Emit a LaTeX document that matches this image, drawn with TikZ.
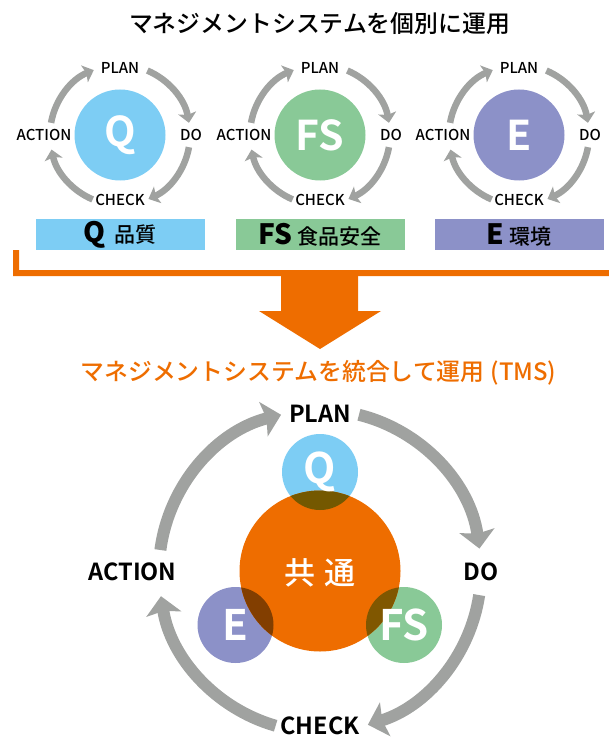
\documentclass[tikz,border=0pt]{standalone}
\usepackage{fontspec}
\setmainfont{Noto Sans CJK JP Medium}[BoldFont={Noto Sans CJK JP Bold}]
\newfontfamily\heavyfont{Noto Sans CJK JP Black}
\usetikzlibrary{arrows.meta}
\definecolor{cq}{HTML}{7DCDF4}
\definecolor{cfs}{HTML}{89C997}
\definecolor{ce}{HTML}{8C91C8}
\definecolor{corg}{HTML}{EE6D00}
\definecolor{cgr}{HTML}{A0A2A0}
\definecolor{ovq}{HTML}{745800}
\definecolor{ovfs}{HTML}{805700}
\definecolor{ove}{HTML}{823E00}
\newcommand{\fsz}[1]{\fontsize{#1}{#1}\selectfont}
\tikzset{
  x=1pt,y=-1pt,
  title/.style={inner sep=0pt,font=\fsz{23.85}},
  smalllab/.style={inner sep=0pt,font=\fsz{15}},
  biglab/.style={inner sep=0pt,font=\fsz{23.5}\bfseries},
  smallarc/.style={draw=cgr,line width=6.5pt,-{Stealth[length=10pt,width=18pt,inset=2pt]}},
  bigarc/.style={draw=cgr,line width=12pt,-{Stealth[length=18pt,width=35pt,inset=3pt]}},
  smallcirc/.style={circle,minimum size=91pt,inner sep=0pt,text=white,font=\fsz{41}\bfseries},
  legend/.style={minimum width=169pt,minimum height=31pt,inner sep=0pt,text=black,font=\fsz{21}},
  bigletter/.style={inner sep=0pt,text=white,font=\fsz{42}\bfseries},
}
\newcommand{\minicycle}[5]{%
  \coordinate (c#1) at (#2,135);
  \node[smallcirc,fill=#3] (circ#1) at (c#1) {#4};
  \node[smalllab] (plan#1) at (#2,68) {PLAN};
  \node[smalllab] (do#1) at ([xshift=71pt]c#1) {DO};
  \node[smalllab] (check#1) at (#2,199.5) {CHECK};
  \node[smalllab] (action#1) at ([xshift=-76pt]c#1) {ACTION};
  \path[smallarc] ([shift={(-67:70)}]c#1) arc[start angle=-67,end angle=-10,radius=70];
  \path[smallarc] ([shift={(10:70)}]c#1) arc[start angle=10,end angle=66,radius=70];
  \path[smallarc] ([shift={(113:70)}]c#1) arc[start angle=113,end angle=168,radius=70];
  \path[smallarc] ([shift={(190:70)}]c#1) arc[start angle=190,end angle=248,radius=70];
  \node[legend,fill=#3] (bar#1) at (#2,234.5) {#5};
}
\begin{document}
\begin{tikzpicture}
\useasboundingbox (0,0) rectangle (609,738);
\node[title] (t1) at (319.5,24) {マネジメントシステムを個別に運用};
\minicycle{q}{120}{cq}{Q}{{\fsz{28}\heavyfont Q}\hspace{.4em}品質}
\minicycle{f}{320}{cfs}{FS}{{\fsz{28}\heavyfont FS}\hspace{.25em}食品安全}
\minicycle{e}{519}{ce}{E}{{\fsz{28}\heavyfont E}\hspace{.25em}環境}
% bracket
\fill[corg] (13,250) -- (19,250) -- (19,270) -- (609,270) -- (609,276) -- (13,276) -- cycle;
% big arrow
\fill[corg] (281,276) -- (358,276) -- (358,311) -- (381,311) -- (320,349) -- (259,311) -- (281,311) -- cycle;
\node[title,text=corg] (t2) at (318.5,373) {マネジメントシステムを統合して運用\hspace{.25em}(TMS)\hspace{.25em}};
% central
\coordinate (cc) at (320,571);
\coordinate (cqq) at (320,472);
\coordinate (cee) at (235.5,625);
\coordinate (cff) at (404,625);
\fill[cq] (cqq) circle[radius=38];
\fill[cfs] (cff) circle[radius=38];
\fill[ce] (cee) circle[radius=38];
\fill[corg] (cc) circle[radius=80.5];
\begin{scope}\clip (cc) circle[radius=80.5];\fill[ovq] (cqq) circle[radius=38];\fill[ovfs] (cff) circle[radius=38];\fill[ove] (cee) circle[radius=38];\end{scope}
\node[inner sep=0pt,text=white,font=\fsz{31}] (kyotsu) at (320,573) {共\hspace{.3em}通};
\node[bigletter] (lq) at (320,472) {Q};
\node[bigletter] (lf) at (404,625) {FS};
\node[bigletter] (le) at (235.5,625) {E};
\node[biglab] (bplan) at (320,414) {PLAN};
\node[biglab] (bdo) at (481,572) {DO};
\node[biglab] (bcheck) at (320,725.5) {CHECK};
\node[biglab] (baction) at (132.5,572) {ACTION};
\path[bigarc] ([shift={(-76:161)}]cc) arc[start angle=-76,end angle=-8,radius=161];
\path[bigarc] ([shift={(8.6:161)}]cc) arc[start angle=8.6,end angle=72.7,radius=161];
\path[bigarc] ([shift={(106:161)}]cc) arc[start angle=106,end angle=171,radius=161];
\path[bigarc] ([shift={(187.5:161)}]cc) arc[start angle=187.5,end angle=256,radius=161];
\end{tikzpicture}
\end{document}
